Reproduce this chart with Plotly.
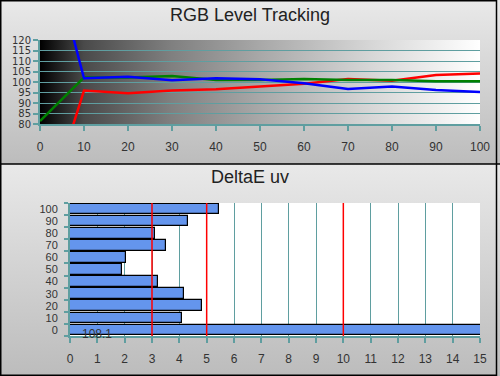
import base64
import plotly.graph_objects as go

# ---- data ----
levels = [0, 10, 20, 30, 40, 50, 60, 70, 80, 90, 100]
red = [29.6, 95.9, 94.6, 95.9, 96.5, 97.8, 99.2, 101.4, 100.6, 103.3, 104.1]
green = [81.4, 102.2, 102.2, 102.9, 101.0, 101.0, 101.4, 101.0, 101.0, 100.3, 100.3]
blue = [181.0, 101.8, 102.5, 100.8, 101.8, 101.3, 99.4, 96.7, 97.8, 96.2, 95.2]
deltae = [108.1, 4.11, 4.84, 4.18, 3.23, 1.89, 2.06, 3.51, 3.12, 4.33, 5.46]
thresholds = [3, 5, 10]
top_title = "RGB Level Tracking"
bottom_title = "DeltaE uv"

W, H = 500, 376
TEAL = "#5f9ea0"
FONT = "Arial, Liberation Sans, sans-serif"


def px_x(p):
    return p / W


def px_y(p):
    return 1 - p / H


def grad_uri(stops, vertical):
    x2, y2 = ("0", "1") if vertical else ("1", "0")
    s = "".join(f'<stop offset="{o}" stop-color="{c}"/>' for o, c in stops)
    svg = (f'<svg xmlns="http://www.w3.org/2000/svg" width="100" height="100" preserveAspectRatio="none">'
           f'<defs><linearGradient id="g" x1="0" y1="0" x2="{x2}" y2="{y2}">{s}</linearGradient></defs>'
           f'<rect width="100" height="100" fill="url(#g)"/></svg>')
    return "data:image/svg+xml;base64," + base64.b64encode(svg.encode()).decode()


panel_grad = grad_uri([(0, "#e9e9e9"), (1, "#bcbcbc")], True)
plot_grad = grad_uri([(0, "#000000"), (0.1, "#4a4a4a"), (0.3, "#808080"),
                      (0.5, "#a8a8a8"), (0.75, "#d6d6d6"), (1, "#ffffff")], False)

fig = go.Figure()

fig.add_trace(go.Scatter(x=levels, y=red, mode="lines", line=dict(color="#ff0000", width=2.5),
                         xaxis="x", yaxis="y", showlegend=False))
fig.add_trace(go.Scatter(x=levels, y=green, mode="lines", line=dict(color="#008000", width=2.5),
                         xaxis="x", yaxis="y", showlegend=False))
fig.add_trace(go.Scatter(x=levels, y=blue, mode="lines", line=dict(color="#0000ff", width=2.5),
                         xaxis="x", yaxis="y", showlegend=False))

fig.add_trace(go.Bar(x=deltae, y=levels, orientation="h", width=8.8,
                     marker=dict(color="#6495ed", line=dict(color="black", width=1.2)),
                     xaxis="x2", yaxis="y2", showlegend=False))

images = [
    dict(source=panel_grad, xref="paper", yref="paper", x=0, y=1, sizex=1, sizey=164 / H,
         sizing="stretch", xanchor="left", yanchor="top", layer="below"),
    dict(source=panel_grad, xref="paper", yref="paper", x=0, y=px_y(164), sizex=1, sizey=(H - 164) / H,
         sizing="stretch", xanchor="left", yanchor="top", layer="below"),
    dict(source=plot_grad, xref="paper", yref="paper", x=px_x(40), y=px_y(40),
         sizex=(480 - 40) / W, sizey=(124 - 40) / H,
         sizing="stretch", xanchor="left", yanchor="top", layer="below"),
]

shapes = [
    dict(type="rect", xref="paper", yref="paper", x0=px_x(70), x1=px_x(480), y0=px_y(336), y1=px_y(203),
         fillcolor="white", line=dict(width=0), layer="below"),
]
for t in thresholds:
    shapes.append(dict(type="line", xref="x2", yref="y2", x0=t, x1=t, y0=-5, y1=105,
                       line=dict(color="#ff0000", width=1.5), layer="above"))
shapes += [
    dict(type="line", xref="paper", yref="paper", x0=0, x1=1, y0=px_y(164), y1=px_y(164),
         line=dict(color="black", width=1.5)),
    dict(type="rect", xref="paper", yref="paper", x0=px_x(0.75), x1=px_x(496.5), y0=px_y(375.25), y1=px_y(0.75),
         line=dict(color="black", width=1.5)),
]

annotations = [
    dict(text=top_title, xref="paper", yref="paper", x=0.5, y=px_y(15), showarrow=False,
         font=dict(family=FONT, size=18, color="#222"), xanchor="center", yanchor="middle"),
    dict(text=bottom_title, xref="paper", yref="paper", x=0.5, y=px_y(177), showarrow=False,
         font=dict(family=FONT, size=18, color="#222"), xanchor="center", yanchor="middle"),
    dict(text=f"{deltae[0]}", xref="x2", yref="y2", x=1.0, y=0, yshift=-4, showarrow=False,
         font=dict(family=FONT, size=12, color="#333"), xanchor="center", yanchor="middle"),
]

tickfont = dict(family=FONT, size=12, color="#333")

fig.update_layout(
    width=W, height=H, autosize=False, margin=dict(l=0, r=0, t=0, b=0, pad=0, autoexpand=False),
    paper_bgcolor="#d4d4d4", plot_bgcolor="rgba(0,0,0,0)",
    images=images, shapes=shapes, annotations=annotations,
    bargap=0,
    xaxis=dict(domain=[px_x(40), px_x(480)], range=[0, 100], dtick=10, tick0=0, anchor="y",
               showgrid=False, zeroline=False, showline=True, linecolor=TEAL, linewidth=2,
               ticks="outside", ticklen=5, tickwidth=2, tickcolor=TEAL, tickfont=tickfont,
               ticklabelstandoff=6),
    yaxis=dict(domain=[px_y(124), px_y(40)], range=[80, 120], dtick=5, tick0=80, anchor="x",
               showgrid=True, gridcolor=TEAL, gridwidth=1.2, zeroline=False,
               showline=True, linecolor=TEAL, linewidth=2,
               ticks="outside", ticklen=5, tickwidth=2, tickcolor=TEAL,
               tickfont=dict(family="DejaVu Sans, sans-serif", size=10, color="#333")),
    xaxis2=dict(domain=[px_x(70), px_x(480)], range=[0, 15], dtick=1, tick0=0, anchor="y2",
                showgrid=True, gridcolor=TEAL, gridwidth=1.2, zeroline=False,
                showline=True, linecolor=TEAL, linewidth=2,
                ticks="outside", ticklen=5, tickwidth=2, tickcolor=TEAL, tickfont=tickfont,
                ticklabelstandoff=6),
    yaxis2=dict(domain=[px_y(336), px_y(203)], range=[-5, 105], anchor="x2",
                tickmode="array", tickvals=levels, ticktext=[str(v) for v in levels],
                ticks="", showgrid=False, zeroline=False,
                showline=True, linecolor=TEAL, linewidth=2,
                minor=dict(tick0=5, dtick=10, ticks="outside", ticklen=4, tickwidth=2, tickcolor=TEAL,
                           showgrid=False),
                tickfont=dict(family=FONT, size=11, color="#333"), ticklabelstandoff=8),
)

fig.write_html(
    "out.html",
    config={"displayModeBar": False, "responsive": False},
    post_script=("document.documentElement.style.margin='0px';"
                 "document.body.style.margin='0px';"
                 "document.documentElement.style.overflow='hidden';"
                 "document.body.style.overflow='hidden';"),
)
